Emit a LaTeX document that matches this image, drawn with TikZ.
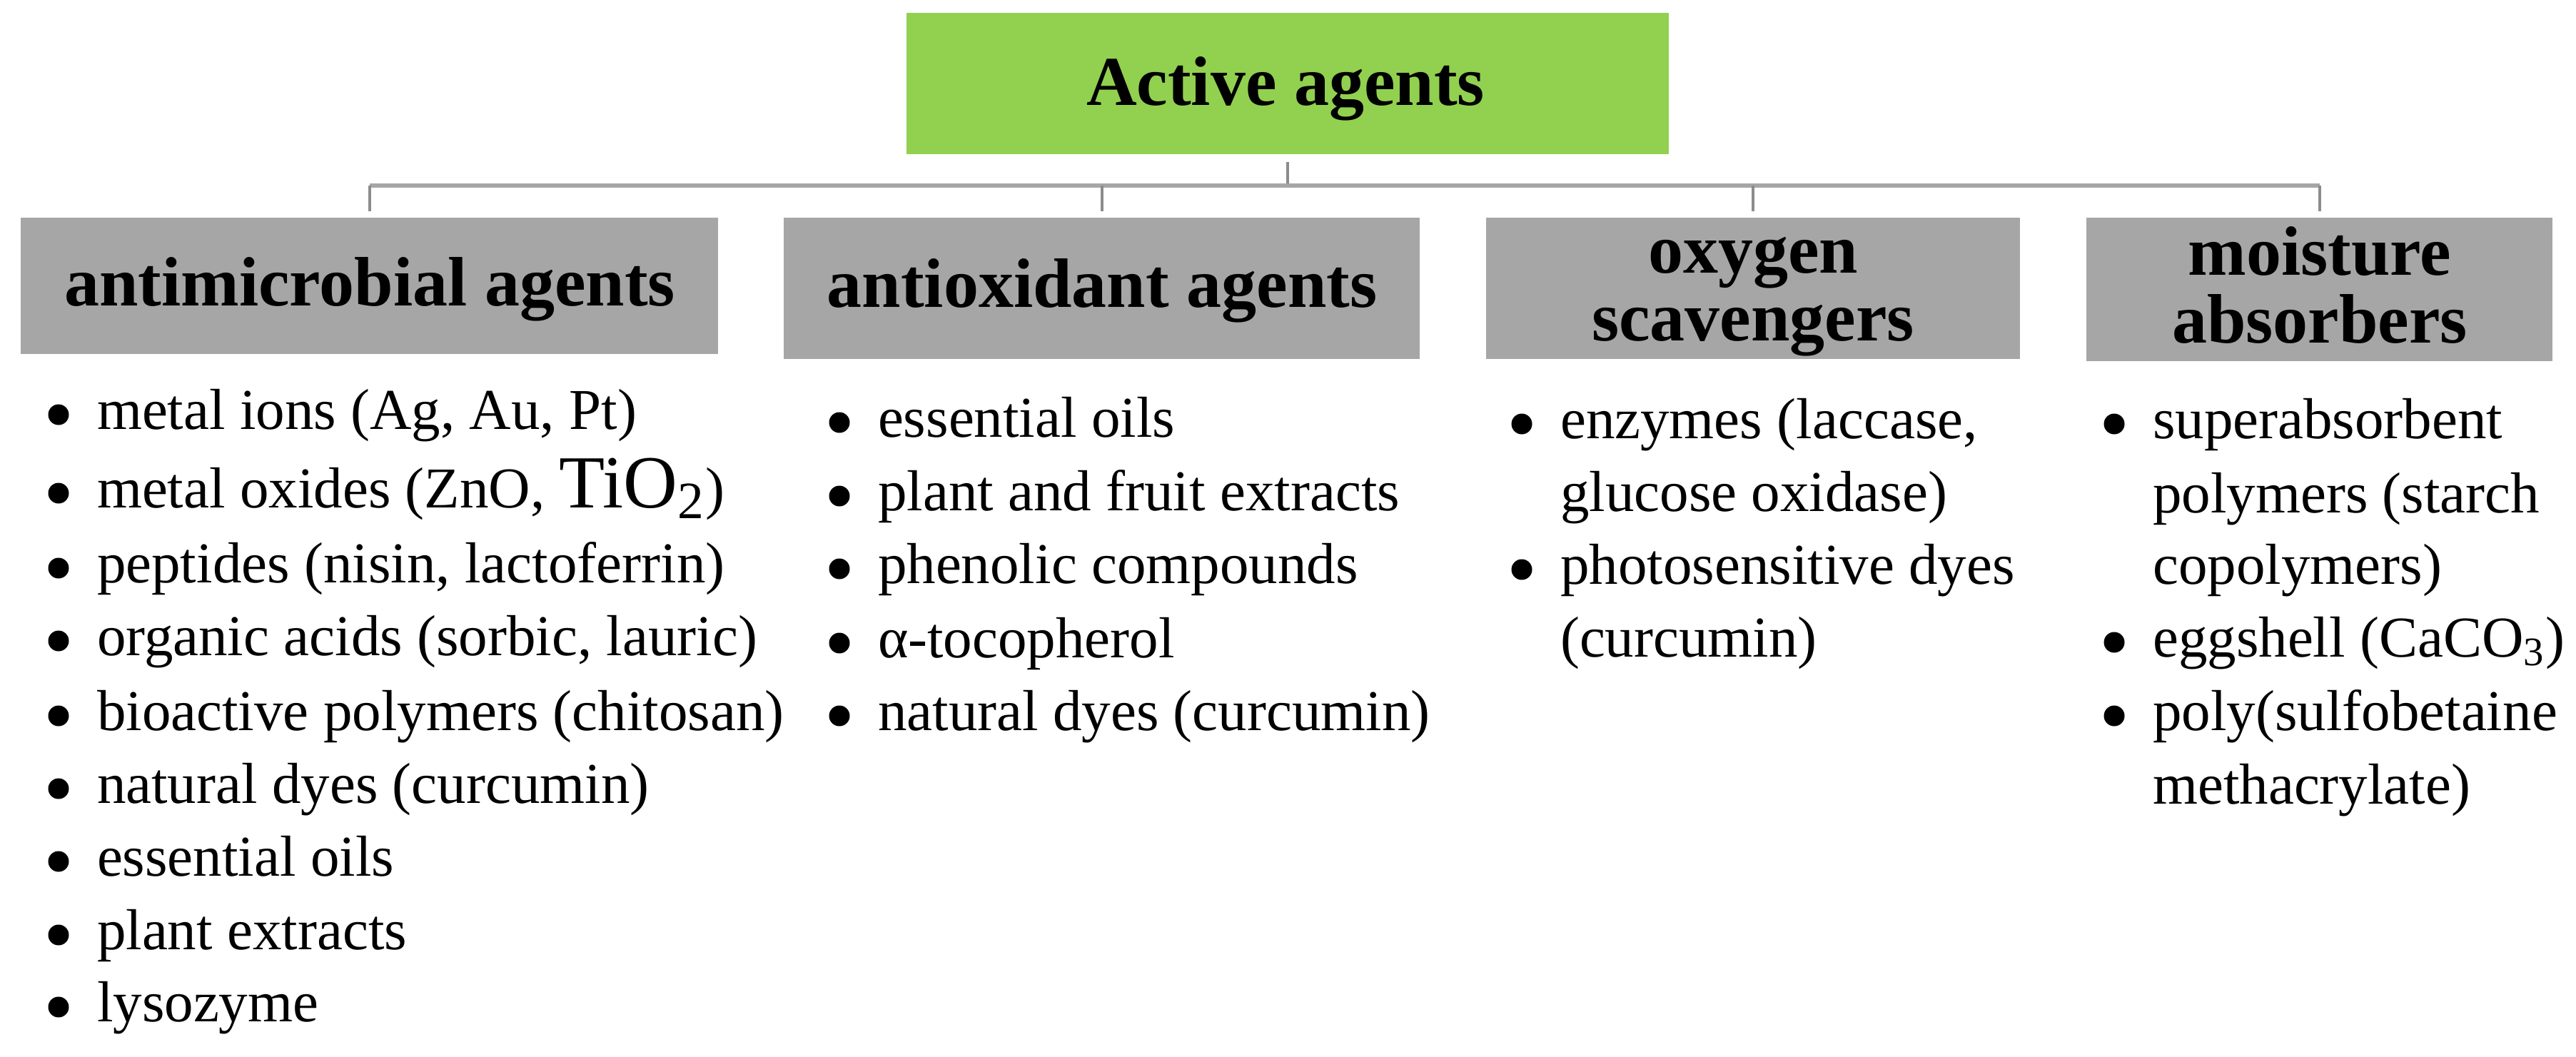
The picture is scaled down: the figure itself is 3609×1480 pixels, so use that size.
\documentclass[tikz,border=0pt]{standalone}
\usepackage{fontspec}
\setmainfont{Liberation Serif}
\definecolor{topgreen}{HTML}{92D050}
\definecolor{hdrgray}{HTML}{A6A6A6}
\definecolor{busgray}{HTML}{A6A6A6}
\definecolor{dropgray}{HTML}{8C8C8C}
\tikzset{
  box/.style={rectangle, inner sep=0pt, draw=none},
  topbox/.style={box, fill=topgreen, minimum width=213.6pt, minimum height=39.6pt},
  catbox/.style={box, fill=hdrgray},
  hdr/.style={inner sep=0pt, anchor=base, font=\fontsize{19.6}{20}\selectfont\bfseries},
  itm/.style={inner sep=0pt, anchor=base west, font=\fontsize{16.2}{19}\selectfont},
  bus/.style={draw=busgray, line width=1.2pt},
  drop/.style={draw=dropgray, line width=0.8pt},
}
\newcommand\bul[1]{\fill (#1.base west) ++(-53,-20) circle (2.9pt);}
\begin{document}
\begin{tikzpicture}[x=0.2pt,y=-0.2pt]
\useasboundingbox (0,0) rectangle (3609,1480);
\fill[white] (0,0) rectangle (3609,1480);

% top box
\node[topbox] (top) at (1804,117) {};
\node[hdr] (topt) at (1801,147) {Active agents};

% category boxes
\node[catbox, minimum width=195.4pt, minimum height=38.2pt] (b1) at (517.5,400.5) {};
\node[catbox, minimum width=178.2pt, minimum height=39.6pt] (b2) at (1543.5,404) {};
\node[catbox, minimum width=149.6pt, minimum height=39.6pt] (b3) at (2456,404) {};
\node[catbox, minimum width=130.6pt, minimum height=40.2pt] (b4) at (3249.5,405.5) {};

\node[hdr] (b1t) at (518,428) {antimicrobial agents};
\node[hdr] (b2t) at (1544,430) {antioxidant agents};
\node[hdr] (b3ta) at (2456,382) {oxygen};
\node[hdr] (b3tb) at (2456,477) {scavengers};
\node[hdr] (b4ta) at (3250,385) {moisture};
\node[hdr] (b4tb) at (3250,480) {absorbers};

% connectors
\coordinate (busy) at (0,260);
\draw[drop, shorten <=2pt] (top.south) -- (top.south |- busy);
\draw[bus] (b1.north |- busy) -- (b4.north |- busy);
\draw[drop, shorten >=1.6pt] (b1.north |- busy) -- (b1.north);
\draw[drop, shorten >=1.6pt] (b2.north |- busy) -- (b2.north);
\draw[drop, shorten >=1.6pt] (b3.north |- busy) -- (b3.north);
\draw[drop, shorten >=1.6pt] (b4.north |- busy) -- (b4.north);

% column 1
\node[itm] (c1a) at (135,601) {metal ions (Ag, Au, Pt)};
\node[itm] (c1b) at (135,711) {metal oxides (ZnO, {\fontsize{21}{22}\selectfont TiO\textsubscript{2}})};
\node[itm] (c1c) at (135,816) {peptides (nisin, lactoferrin)};
\node[itm] (c1d) at (135,918) {organic acids (sorbic, lauric)};
\node[itm] (c1e) at (135,1023) {bioactive polymers (chitosan)};
\node[itm] (c1f) at (135,1125) {natural dyes (curcumin)};
\node[itm] (c1g) at (135,1227) {essential oils};
\node[itm] (c1h) at (135,1330) {plant extracts};
\node[itm] (c1i) at (135,1431) {lysozyme};
\bul{c1a}\bul{c1b}\bul{c1c}\bul{c1d}\bul{c1e}\bul{c1f}\bul{c1g}\bul{c1h}\bul{c1i}

% column 2
\node[itm] (c2a) at (1229,612) {essential oils};
\node[itm] (c2b) at (1229,715) {plant and fruit extracts};
\node[itm] (c2c) at (1229,817) {phenolic compounds};
\node[itm] (c2d) at (1229,921) {α-tocopherol};
\node[itm] (c2e) at (1229,1023) {natural dyes (curcumin)};
\bul{c2a}\bul{c2b}\bul{c2c}\bul{c2d}\bul{c2e}

% column 3
\node[itm] (c3a) at (2185,614) {enzymes (laccase,};
\node[itm] (c3b) at (2185,716) {glucose oxidase)};
\node[itm] (c3c) at (2185,818) {photosensitive dyes};
\node[itm] (c3d) at (2185,920) {(curcumin)};
\bul{c3a}\bul{c3c}

% column 4
\node[itm] (c4a) at (3015,614) {superabsorbent};
\node[itm] (c4b) at (3015,718) {polymers (starch};
\node[itm] (c4c) at (3015,818) {copolymers)};
\node[itm] (c4d) at (3015,920) {eggshell (CaCO\textsubscript{3})};
\node[itm] (c4e) at (3015,1023) {poly(sulfobetaine};
\node[itm] (c4f) at (3015,1126) {methacrylate)};
\bul{c4a}\bul{c4d}\bul{c4e}
\end{tikzpicture}
\end{document}
